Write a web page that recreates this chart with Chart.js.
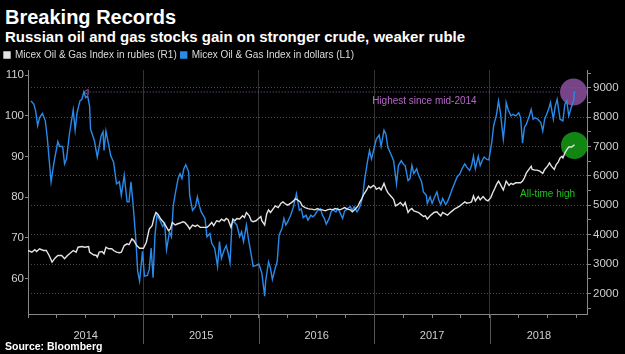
<!DOCTYPE html>
<html lang="en">
<head>
  <meta charset="UTF-8">
  <title>Breaking Records</title>
  <script src="https://cdn.jsdelivr.net/npm/chart.js"></script>
  <style>
    body { margin: 0; background: #000; width: 625px; height: 354px; overflow: hidden; position: relative;
           font-family: 'Liberation Sans', Arial, sans-serif; color: #fff; }
    #title { position: absolute; left: 5px; top: 6px; font-size: 20px; font-weight: bold; }
    #subtitle { position: absolute; left: 5px; top: 28px; font-size: 15px; font-weight: bold; }
    #source { position: absolute; left: 5px; top: 340px; font-size: 10.5px; font-weight: bold; }
    #wrap { position: absolute; left: 0; top: 46px; width: 625px; height: 299px; }
  </style>
</head>
<body>
  <div id="title">Breaking Records</div>
  <div id="subtitle">Russian oil and gas stocks gain on stronger crude, weaker ruble</div>
  <div id="wrap"><canvas id="grafica"></canvas></div>
  <div id="source">Source: Bloomberg</div>

  <script>
    // months since Jan 2014
    const rubMonths = [0.0,0.4,0.7,0.9,1.2,1.6,1.9,2.2,2.5,2.8,3.1,3.5,3.8,4.1,4.5,4.7,5.0,5.2,5.6,5.9,6.3,6.4,6.8,7.1,7.2,7.4,7.7,7.9,8.1,8.4,8.7,8.9,9.2,9.5,9.7,10.0,10.3,10.5,10.8,11.0,11.3,11.6,12.0,12.3,12.6,12.9,13.1,13.3,13.5,13.8,14.1,14.3,14.6,14.8,15.0,15.3,15.5,15.8,16.1,16.3,16.6,16.8,17.1,17.4,17.6,17.9,18.2,18.6,18.8,19.1,19.3,19.6,19.9,20.1,20.4,20.6,20.8,21.1,21.3,21.5,21.7,22.0,22.3,22.5,22.7,23.0,23.2,23.4,23.7,23.9,24.2,24.3,24.6,24.8,25.0,25.2,25.5,25.7,26.0,26.3,26.5,26.8,27.0,27.3,27.6,27.8,28.0,28.3,28.5,28.8,29.1,29.3,29.5,29.8,30.1,30.3,30.6,30.9,31.1,31.4,31.7,31.9,32.2,32.4,32.7,32.9,33.2,33.5,33.7,34.0,34.3,34.5,34.7,34.9,35.2,35.4,35.6,35.9,36.1,36.2,36.5,36.7,37.0,37.2,37.4,37.7,38.0,38.2,38.5,38.7,39.0,39.2,39.5,39.7,39.9,40.1,40.4,40.6,40.8,41.1,41.3,41.5,41.8,42.0,42.2,42.5,42.7,42.9,43.1,43.4,43.6,43.8,44.1,44.4,44.6,44.9,45.1,45.4,45.6,45.9,46.1,46.3,46.5,46.8,47.0,47.3,47.6,47.8,48.1,48.3,48.5,48.7,48.9,49.1,49.4,49.6,49.7,50.0,50.2,50.4,50.7,51.0,51.2,51.4,51.6,51.8,52.1,52.3,52.4,52.7,52.9,53.2,53.5,53.7,54.0,54.2,54.4,54.7,54.9,55.1,55.3,55.5,55.6,55.8,56.0,56.2,56.5,56.8];
    const rubValues = [3460,3403,3484,3426,3518,3460,3460,3291,3065,3200,3291,3291,3180,3291,3403,3460,3403,3572,3595,3572,3595,3403,3315,3291,3234,3403,3426,3348,3572,3518,3518,3460,3403,3382,3403,3629,3686,3660,3855,3798,3629,3538,3538,3741,4193,4305,4585,4754,4700,4531,4416,4305,4136,4193,4416,4328,4362,4396,4440,4416,4305,4193,4328,4282,4328,4248,4248,4248,4305,4416,4305,4473,4440,4531,4473,4551,4510,4248,4531,4473,4551,4531,4642,4585,4754,4642,4473,4440,4473,4531,4619,4473,4328,4700,4845,4754,4889,4980,4923,5071,5115,5037,5003,5071,5149,5227,5183,5115,4980,4923,4889,4868,4868,4845,4889,4845,4845,4811,4845,4868,4845,4889,4868,4845,4889,4923,4868,4845,4778,4868,4980,5115,5227,5376,5521,5656,5598,5679,5620,5544,5598,5521,5747,5565,5430,5318,5206,4980,5037,5092,4980,5092,4754,4845,4889,4811,4778,4754,4700,4619,4642,4531,4642,4700,4754,4778,4700,4642,4754,4700,4665,4732,4811,4889,4923,4980,5037,5115,5071,5092,5115,5318,5149,5295,5183,5295,5183,5149,5262,5430,5565,5713,5825,5713,5521,5713,5825,5679,5747,5713,5767,5767,5767,5825,5936,6105,6240,6331,6220,6196,6196,6163,6085,6220,6331,6443,6331,6220,6389,6466,6612,6669,6612,6781,6895,6983,6983,7064];

    const usdMonths = [0.3,0.6,0.8,1.0,1.2,1.5,1.8,2.0,2.4,2.7,3.1,3.3,3.6,3.8,4.0,4.3,4.7,4.9,5.1,5.4,5.6,5.8,6.0,6.2,6.4,6.5,6.9,7.2,7.6,7.8,7.9,8.1,8.3,8.6,8.9,9.2,9.5,9.7,10.0,10.3,10.5,10.7,10.9,11.2,11.4,11.6,11.9,12.1,12.4,12.6,12.8,13.0,13.2,13.4,13.7,14.0,14.2,14.4,14.7,14.9,15.1,15.4,15.6,15.8,16.0,16.2,16.4,16.7,16.8,17.1,17.4,17.6,17.8,18.0,18.4,18.6,18.9,19.1,19.4,19.7,19.9,20.1,20.4,20.6,20.8,21.0,21.2,21.4,21.7,22.0,22.2,22.4,22.7,22.9,23.2,23.4,23.8,24.0,24.3,24.6,24.7,25.0,25.2,25.4,25.7,25.9,26.1,26.4,26.6,26.8,27.0,27.3,27.6,27.7,27.9,28.2,28.4,28.6,28.9,29.1,29.4,29.6,29.8,30.1,30.4,30.6,30.8,31.0,31.3,31.5,31.7,32.0,32.2,32.4,32.7,32.9,33.2,33.5,33.7,33.9,34.2,34.4,34.6,34.8,35.0,35.3,35.5,35.7,36.0,36.2,36.5,36.7,37.0,37.2,37.4,37.7,38.0,38.3,38.5,38.8,39.0,39.2,39.5,39.7,39.9,40.1,40.4,40.6,40.9,41.1,41.4,41.5,41.8,42.0,42.2,42.5,42.7,42.9,43.1,43.4,43.6,43.8,44.1,44.4,44.6,44.9,45.1,45.4,45.6,45.9,46.1,46.3,46.5,46.8,47.0,47.2,47.4,47.7,47.9,48.2,48.4,48.7,48.9,49.1,49.4,49.6,49.7,49.9,50.2,50.4,50.7,51.0,51.2,51.4,51.6,51.8,52.1,52.3,52.5,52.7,53.0,53.3,53.5,53.7,54.0,54.2,54.3,54.6,54.8,55.0,55.2,55.3,55.6,55.8,56.0,56.2,56.3,56.5,56.7,56.8];
    const usdValues = [103.7,102.9,101.2,97.6,99.6,100.6,98.8,94.7,83.8,88.6,93.7,92.5,92.5,88.2,89.4,95.5,101.5,96.5,100.8,103.7,104.1,105.9,104.5,104.9,102.4,96.8,93.9,89.9,95.1,96.1,91.5,96.3,93.9,90.2,88.6,83.3,83.8,80.5,85.4,78.9,78.9,83.8,78.9,69.9,61.8,59.4,66.7,60.6,60.8,62.2,67.5,60.2,70.7,75.6,74.4,72.8,73.6,67.1,71.5,70.3,78.0,82.1,84.6,85.8,84.6,87.0,88.0,86.2,80.5,76.8,77.7,80.1,78.0,76.4,74.8,70.3,71.1,68.7,67.5,63.0,69.1,65.0,67.1,68.1,66.3,63.9,73.6,74.0,73.2,70.3,71.5,69.1,73.2,69.9,65.9,63.0,63.3,63.6,61.4,55.7,59.4,64.1,62.6,59.8,62.6,64.2,70.7,72.4,74.8,73.2,74.0,75.6,77.7,78.9,80.9,76.8,77.2,75.0,75.6,74.4,75.6,75.2,75.6,76.8,77.2,75.6,74.8,73.4,74.8,76.4,77.0,76.4,77.2,76.4,74.8,76.6,77.2,77.7,76.8,77.7,76.4,77.2,78.4,80.5,84.6,89.0,91.5,89.4,92.3,94.3,95.3,92.5,96.5,95.5,92.3,90.7,89.0,83.3,87.8,89.0,88.2,87.8,84.1,84.6,87.8,85.8,87.0,85.4,83.9,81.3,80.5,78.5,80.1,78.5,79.7,81.3,79.3,78.2,79.7,78.2,78.9,80.1,82.1,83.8,85.0,85.8,87.0,88.2,87.4,86.6,87.8,90.1,87.0,90.1,87.8,89.0,89.9,89.3,89.2,93.5,97.6,100.4,103.7,100.8,94.3,99.2,103.3,101.6,100.0,100.4,100.0,100.8,99.6,93.3,97.2,98.0,100.0,101.6,99.2,99.6,99.2,98.4,96.3,99.2,101.0,102.4,103.3,99.2,102.4,104.1,100.8,99.2,98.8,102.9,103.7,100.0,100.8,102.4,103.7,106.1];

    const seriesLabels = ['Micex Oil & Gas Index in rubles (R1)', 'Micex Oil & Gas Index in dollars (L1)'];
    const yearNames = ['2014', '2015', '2016', '2017', '2018'];
    const yearCenters = [6, 18, 30, 42, 53.1];
    const yearStarts = [12, 24, 36, 48];
    const quarterTicks = [0,3,6,9,12,15,18,21,24,27,30,33,36,39,42,45,48,51,54,57];
    const leftTicks = [60, 70, 80, 90, 100, 110];
    const rightTicks = [1500,2000,2500,3000,3500,4000,4500,5000,5500,6000,6500,7000,7500,8000,8500,9000,9500];

    // highlight marks
    const peak2014 = { from: 6.1, to: 55.3, level: 105.9 };
    const usdHigh = { x: 56.7, y: 105.9 };
    const rubHigh = { x: 56.8, y: 7040 };
    const notes = [
      { text: 'Highest since mid-2014', x: 41.2, y: 103.7, axis: 'yL', color: '#b665c6' },
      { text: 'All-time high', x: 54.0, y: 5390, axis: 'yR', color: '#1fc21f' }
    ];

    const toPts = (xs, ys) => xs.map((m, i) => ({ x: m, y: ys[i] }));

    const extras = {
      id: 'extras',
      afterDatasetsDraw(chart) {
        const ctx = chart.ctx;
        const xs = chart.scales.x;
        ctx.save();
        ctx.font = '10px "Liberation Sans", Arial, sans-serif';
        ctx.textAlign = 'center';
        ctx.textBaseline = 'middle';
        notes.forEach(n => {
          ctx.fillStyle = n.color;
          ctx.fillText(n.text, xs.getPixelForValue(n.x), chart.scales[n.axis].getPixelForValue(n.y));
        });
        // year dividers below the axis
        ctx.strokeStyle = '#555';
        ctx.lineWidth = 1;
        yearStarts.forEach(m => {
          const px = Math.round(xs.getPixelForValue(m)) + 0.5;
          ctx.beginPath();
          ctx.moveTo(px, chart.chartArea.bottom);
          ctx.lineTo(px, chart.chartArea.bottom + 30);
          ctx.stroke();
        });
        ctx.restore();
      }
    };

    const ctx = document.getElementById('grafica').getContext('2d');
    new Chart(ctx, {
      type: 'line',
      data: {
        datasets: [
          {
            label: seriesLabels[0],
            data: toPts(rubMonths, rubValues),
            yAxisID: 'yR',
            borderColor: '#e4e4e4',
            backgroundColor: '#e4e4e4',
            borderWidth: 1.4,
            pointRadius: 0,
            order: 1
          },
          {
            label: seriesLabels[1],
            data: toPts(usdMonths, usdValues),
            yAxisID: 'yL',
            borderColor: '#2a8aea',
            backgroundColor: '#2a8aea',
            borderWidth: 1.4,
            pointRadius: 0,
            order: 2
          },
          {
            label: 'peak',
            data: [{ x: peak2014.from, y: peak2014.level }, { x: peak2014.to, y: peak2014.level }],
            yAxisID: 'yL',
            borderColor: '#8d5a9e',
            borderWidth: 1,
            borderDash: [1, 2],
            pointRadius: [3, 0],
            pointStyle: 'triangle',
            rotation: -90,
            pointBorderColor: '#8d5a9e',
            pointBackgroundColor: 'rgba(0,0,0,0)',
            order: 3
          },
          {
            label: 'usdHigh',
            data: [usdHigh],
            yAxisID: 'yL',
            showLine: false,
            pointRadius: 13.5,
            pointBorderWidth: 0,
            pointBackgroundColor: 'rgba(140,80,160,0.85)',
            order: 4
          },
          {
            label: 'rubHigh',
            data: [rubHigh],
            yAxisID: 'yR',
            showLine: false,
            pointRadius: 13.5,
            pointBorderWidth: 0,
            pointBackgroundColor: 'rgba(20,140,20,0.95)',
            order: 4
          }
        ]
      },
      options: {
        responsive: true,
        maintainAspectRatio: false,
        animation: false,
        layout: { padding: 0 },
        plugins: {
          tooltip: { enabled: false },
          legend: {
            position: 'top',
            align: 'start',
            labels: {
              filter: item => item.datasetIndex < 2,
              color: '#dcdcdc',
              boxWidth: 6,
              boxHeight: 6,
              padding: 4,
              font: { family: "'Liberation Sans', Arial, sans-serif", size: 10 }
            }
          }
        },
        scales: {
          x: {
            type: 'linear',
            min: 0,
            max: 58.1,
            afterBuildTicks: s => { s.ticks = quarterTicks.concat([yearCenters[4]]).sort((a, b) => a - b).map(v => ({ value: v })); },
            afterFit: s => { s.height = 31; },
            ticks: {
              autoSkip: false,
              maxRotation: 0,
              color: '#cfcfcf',
              padding: 11,
              font: { family: "'Liberation Sans', Arial, sans-serif", size: 11 },
              callback: v => { const i = yearCenters.indexOf(v); return i >= 0 ? yearNames[i] : ''; }
            },
            grid: {
              color: c => (c.tick && yearStarts.includes(c.tick.value)) ? '#333' : 'rgba(0,0,0,0)',
              tickColor: c => (c.tick && quarterTicks.includes(c.tick.value)) ? '#888' : 'rgba(0,0,0,0)',
              tickLength: 4
            },
            border: { color: '#888' }
          },
          yL: {
            position: 'left',
            min: 51.3,
            max: 111.3,
            afterBuildTicks: s => { s.ticks = leftTicks.map(v => ({ value: v })); },
            afterFit: s => { s.width = 28; },
            ticks: {
              color: '#cfcfcf',
              padding: 1,
              autoSkip: false,
              font: { family: "'Liberation Sans', Arial, sans-serif", size: 11.5 }
            },
            grid: { drawOnChartArea: false, tickColor: '#888', tickLength: 3 },
            border: { color: '#888' }
          },
          yR: {
            position: 'right',
            min: 1297,
            max: 9608,
            afterBuildTicks: s => { s.ticks = rightTicks.map(v => ({ value: v })); },
            afterFit: s => { s.width = 38; },
            ticks: {
              color: '#cfcfcf',
              padding: 2,
              autoSkip: false,
              font: { family: "'Liberation Sans', Arial, sans-serif", size: 11.5 },
              callback: v => (v % 1000 === 0 ? String(v) : '')
            },
            grid: {
              color: c => (c.tick && c.tick.value % 1000 === 0) ? '#4a4a4a' : 'rgba(0,0,0,0)',
              tickColor: '#888',
              tickLength: 4
            },
            border: { color: '#888', dash: [1, 2] }
          }
        }
      },
      plugins: [extras]
    });
  </script>
</body>
</html>
